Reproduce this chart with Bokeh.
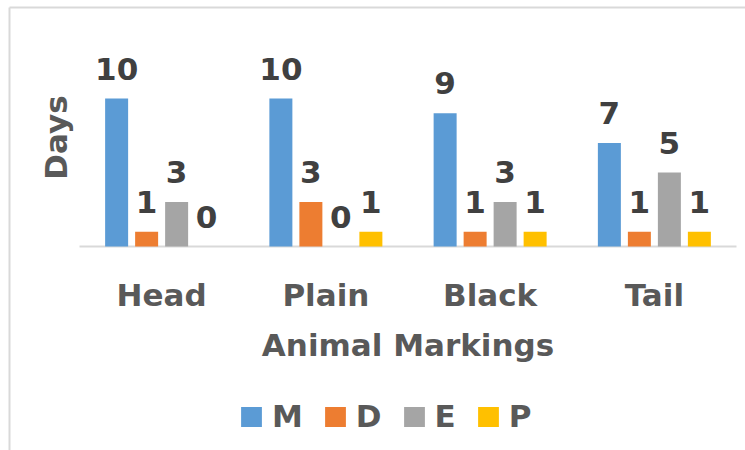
from math import pi

from bokeh.core.properties import value
from bokeh.embed import file_html
from bokeh.models import ColumnDataSource, Range1d
from bokeh.plotting import figure
from bokeh.resources import INLINE
from bokeh.transform import dodge

# Days recorded per animal marking, one list per series
categories = ["Head", "Plain", "Black", "Tail"]
series_names = ["M", "D", "E", "P"]
m_days = [10, 10, 9, 7]
d_days = [1, 3, 1, 1]
e_days = [3, 0, 3, 5]
p_days = [0, 1, 1, 1]
series_colors = ["#5B9BD5", "#ED7D31", "#A5A5A5", "#FFC000"]

x_title = "Animal Markings"
y_title = "Days"

# Canvas layout (pixels)
W, H = 745, 450
AX_LEFT, AX_RIGHT = 79, 736      # horizontal extent of the category axis
BASE_Y = 246                     # pixel row of the zero line
PX_PER_DAY = 14.8                # vertical scale
BAR_W_PX, BAR_STEP_PX = 23, 30   # bar width and spacing inside a group
TEXT_SHIFT = 13                  # baseline correction for the svg text

FONT_NAME = "DejaVu Sans"
FONT = value(FONT_NAME)
FONT_SIZE = "31px"
LABEL_COLOR = "#404040"
AXIS_TEXT_COLOR = "#595959"
LINE_COLOR = "#D9D9D9"

cat_px = (AX_RIGHT - AX_LEFT) / len(categories)


def px_x(px):
    return (px - AX_LEFT) / cat_px


def px_y(py):
    return (BASE_Y - py) / PX_PER_DAY


series_values = [m_days, d_days, e_days, p_days]

data = {"x": [i + 0.5 for i in range(len(categories))], "cat": categories}
for name, vals in zip(series_names, series_values):
    data[name] = vals
    data[name + "_lbl"] = [str(v) for v in vals]
src = ColumnDataSource(data)

p = figure(
    width=W, height=H,
    x_range=Range1d(px_x(0), px_x(W)),
    y_range=Range1d(px_y(H), px_y(0)),
    x_axis_location=None, y_axis_location=None,
    toolbar_location=None, output_backend="svg",
    min_border=0, outline_line_color=None,
    background_fill_color="white", border_fill_color="white",
)
p.grid.visible = False

# chart-area border: top and left edges
p.segment(x0=[px_x(9), px_x(9)], y0=[px_y(7), px_y(7)],
          x1=[px_x(W + 5), px_x(9)], y1=[px_y(7), px_y(H + 5)],
          line_color=LINE_COLOR, line_width=2)

# zero line of the category axis
p.segment(x0=[0], y0=[0], x1=[len(categories)], y1=[0],
          line_color=LINE_COLOR, line_width=2)

n = len(series_names)
for j, (name, color) in enumerate(zip(series_names, series_colors)):
    offset = (j - (n - 1) / 2) * BAR_STEP_PX / cat_px
    p.vbar(x=dodge("x", offset), top=name, bottom=0, width=BAR_W_PX / cat_px,
           source=src, fill_color=color, line_color=None, legend_label=name)
    p.text(x=dodge("x", offset), y=name, text=name + "_lbl", source=src,
           y_offset=-17 - TEXT_SHIFT, text_align="center",
           text_baseline="alphabetic",
           text_font=FONT, text_font_style="bold", text_font_size=FONT_SIZE,
           text_color=LABEL_COLOR)

# category labels
p.text(x="x", y=0, text="cat", source=src, y_offset=61 - TEXT_SHIFT,
       text_align="center", text_baseline="alphabetic",
       text_font=FONT, text_font_style="bold", text_font_size=FONT_SIZE,
       text_color=AXIS_TEXT_COLOR)

# axis titles
p.text(x=[len(categories) / 2], y=[0], text=[x_title],
       y_offset=111 - TEXT_SHIFT,
       text_align="center", text_baseline="alphabetic",
       text_font=FONT, text_font_style="bold", text_font_size=FONT_SIZE,
       text_color=AXIS_TEXT_COLOR)
p.text(x=[px_x(68 - TEXT_SHIFT)], y=[px_y(137)], text=[y_title], angle=pi / 2,
       text_align="center", text_baseline="alphabetic",
       text_font=FONT, text_font_style="bold", text_font_size=FONT_SIZE,
       text_color=AXIS_TEXT_COLOR)

leg = p.legend[0]
leg.orientation = "horizontal"
leg.location = (238, 16)
leg.glyph_width = 26
leg.glyph_height = 25
leg.label_standoff = 8
leg.spacing = 19
leg.padding = 0
leg.margin = 0
leg.border_line_color = None
leg.background_fill_alpha = 0
leg.label_text_font = FONT_NAME
leg.label_text_font_style = "bold"
leg.label_text_font_size = FONT_SIZE
leg.label_text_color = AXIS_TEXT_COLOR

open("out.html", "w").write(file_html(p, INLINE))
